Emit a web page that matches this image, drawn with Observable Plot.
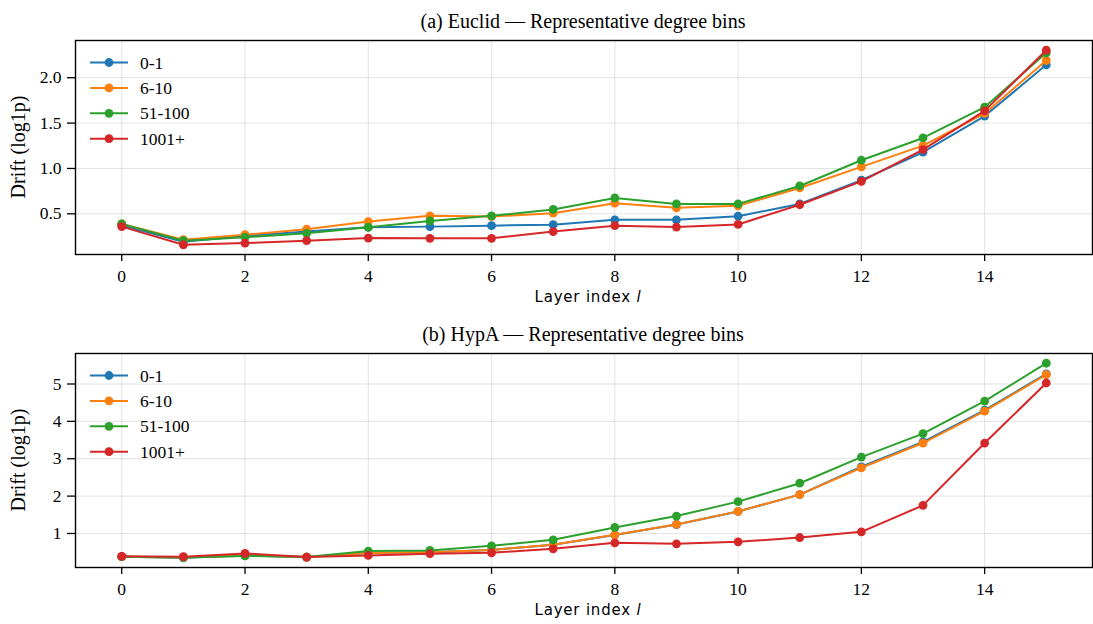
<!DOCTYPE html>
<html><head><meta charset="utf-8">
<script src="https://cdn.jsdelivr.net/npm/d3@7"></script>
<script src="https://cdn.jsdelivr.net/npm/@observablehq/plot@0.6"></script>
<style>
body{margin:0;background:#fff;}
#chart{width:1093px;height:624px;}
#chart svg{display:block;font-family:'Liberation Serif','Times New Roman',serif !important;}
</style></head><body><div id="chart"></div>
<script>
const layers = [0,1,2,3,4,5,6,7,8,9,10,11,12,13,14,15];
const seriesNames = ["0-1","6-10","51-100","1001+"];
const seriesColors = ["#1f77b4","#ff7f0e","#2ca02c","#d62728"];
const xTicks = [0,2,4,6,8,10,12,14];

const euclid_0_1   = [0.374,0.193,0.256,0.304,0.352,0.359,0.370,0.381,0.434,0.434,0.474,0.609,0.872,1.179,1.577,2.142];
const euclid_6_10  = [0.389,0.215,0.270,0.330,0.415,0.478,0.470,0.507,0.617,0.566,0.588,0.785,1.018,1.252,1.606,2.190];
const euclid_51_100= [0.389,0.204,0.241,0.285,0.352,0.422,0.478,0.548,0.675,0.609,0.609,0.807,1.091,1.336,1.675,2.274];
const euclid_1001  = [0.359,0.159,0.178,0.204,0.233,0.230,0.230,0.304,0.369,0.354,0.383,0.600,0.858,1.208,1.635,2.303];
const euclidYTicks = [0.5,1.0,1.5,2.0];

const hypa_0_1     = [0.38,0.35,0.41,0.37,0.48,0.50,0.56,0.70,0.96,1.24,1.59,2.04,2.785,3.45,4.30,5.27];
const hypa_6_10    = [0.38,0.36,0.41,0.37,0.48,0.50,0.56,0.70,0.964,1.242,1.592,2.04,2.758,3.42,4.274,5.251];
const hypa_51_100  = [0.38,0.36,0.40,0.37,0.529,0.547,0.671,0.831,1.161,1.466,1.852,2.345,3.045,3.673,4.543,5.556];
const hypa_1001    = [0.39,0.378,0.467,0.369,0.413,0.458,0.484,0.59,0.749,0.722,0.776,0.892,1.045,1.753,3.42,5.027];
const hypaYTicks = [1,2,3,4,5];

const titles = ["(a) Euclid \u2014 Representative degree bins", "(b) HypA \u2014 Representative degree bins"];
const yLabel = "Drift (log1p)";
const xLabelText = "Layer index ";
const xLabelVar = "l";

const SERIF = "'Liberation Serif','Times New Roman',serif";

function makePanel(title, seriesData, yTicks, yFmt, marginTop) {
  const rows = [];
  seriesData.forEach((vals, si) => vals.forEach((v, i) => rows.push({layer: layers[i], value: v, series: seriesNames[si]})));
  const ext = d3.extent(rows, d => d.value);
  const pad = (ext[1] - ext[0]) * 0.05;
  const xPad = (layers[layers.length-1] - layers[0]) * 0.05;
  const marks = [
    Plot.gridX(xTicks, {stroke: "#b0b0b0", strokeOpacity: 0.35, strokeWidth: 1}),
    Plot.gridY(yTicks, {stroke: "#b0b0b0", strokeOpacity: 0.35, strokeWidth: 1}),
  ];
  seriesNames.forEach(name => {
    const sub = rows.filter(r => r.series === name);
    marks.push(Plot.line(sub, {x: "layer", y: "value", stroke: "series", strokeWidth: 2}));
    marks.push(Plot.dot(sub, {x: "layer", y: "value", fill: "series", r: 4.4}));
  });
  marks.push(Plot.frame({stroke: "#000", strokeWidth: 1.4}));
  marks.push(Plot.axisX(xTicks, {tickSize: 7, tickPadding: 8, label: null, fontSize: 17.5, stroke: "#000", strokeWidth: 1.3}));
  marks.push(Plot.axisY(yTicks, {tickSize: 8, tickPadding: 6, label: null, tickFormat: yFmt, fontSize: 17.5, stroke: "#000", strokeWidth: 1.3}));
  const svg = Plot.plot({
    width: 1093, height: 312,
    marginTop: marginTop, marginBottom: 312 - marginTop - 214, marginLeft: 75, marginRight: 1,
    style: {fontFamily: SERIF, color: "#000", background: "#fff", overflow: "visible"},
    x: {domain: [layers[0] - xPad, layers[layers.length-1] + xPad]},
    y: {domain: [ext[0] - pad, ext[1] + pad]},
    color: {domain: seriesNames, range: seriesColors},
    marks
  });
  const s = d3.select(svg).attr("font-family", SERIF);
  s.selectAll('g[aria-label="x-axis tick label"], g[aria-label="y-axis tick label"]')
    .attr("font-size", 17.5).style("font-size", "17.5px").style("font-family", SERIF);
  s.selectAll('g[aria-label="x-axis tick label"] text, g[aria-label="y-axis tick label"] text')
    .style("font-size", "17.5px").style("font-family", SERIF);
  const top = marginTop, bottom = marginTop + 214;
  // title
  s.append("text").attr("x", 583).attr("y", top - 12).attr("text-anchor", "middle")
    .style("font-family", SERIF).style("font-size", "20px").attr("fill", "#000").text(title);
  // y label
  s.append("text").attr("transform", `translate(18,${(top + bottom) / 2}) rotate(-90)`).attr("text-anchor", "middle")
    .attr("dy", "0.35em")
    .style("font-family", SERIF).style("font-size", "20px").attr("fill", "#000").text(yLabel);
  // x label
  const xl = s.append("text").attr("x", 588).attr("y", bottom + 48).attr("text-anchor", "middle")
    .style("font-family", "'DejaVu Sans', sans-serif").style("font-size", "15px").style("letter-spacing", "0.8px").attr("fill", "#000");
  xl.append("tspan").text(xLabelText);
  xl.append("tspan").style("font-style", "italic").text(xLabelVar);
  // legend
  const lg = s.append("g").attr("transform", `translate(90,${top + 22.5})`);
  seriesNames.forEach((name, i) => {
    const g = lg.append("g").attr("transform", `translate(0,${i * 25.4})`);
    g.append("line").attr("x1", 0).attr("x2", 38).attr("y1", 0).attr("y2", 0).attr("stroke", seriesColors[i]).attr("stroke-width", 2);
    g.append("circle").attr("cx", 19).attr("cy", 0).attr("r", 4.4).attr("fill", seriesColors[i]);
    g.append("text").attr("x", 50).attr("y", 0).attr("dy", "0.35em").attr("text-anchor", "start")
      .style("font-family", SERIF).style("font-size", "17.5px").attr("fill", "#000").text(name);
  });
  return svg;
}

const chart = document.getElementById("chart");
chart.appendChild(makePanel(titles[0], [euclid_0_1, euclid_6_10, euclid_51_100, euclid_1001], euclidYTicks, d3.format(".1f"), 40));
chart.appendChild(makePanel(titles[1], [hypa_0_1, hypa_6_10, hypa_51_100, hypa_1001], hypaYTicks, d3.format("d"), 41));
</script></body></html>
